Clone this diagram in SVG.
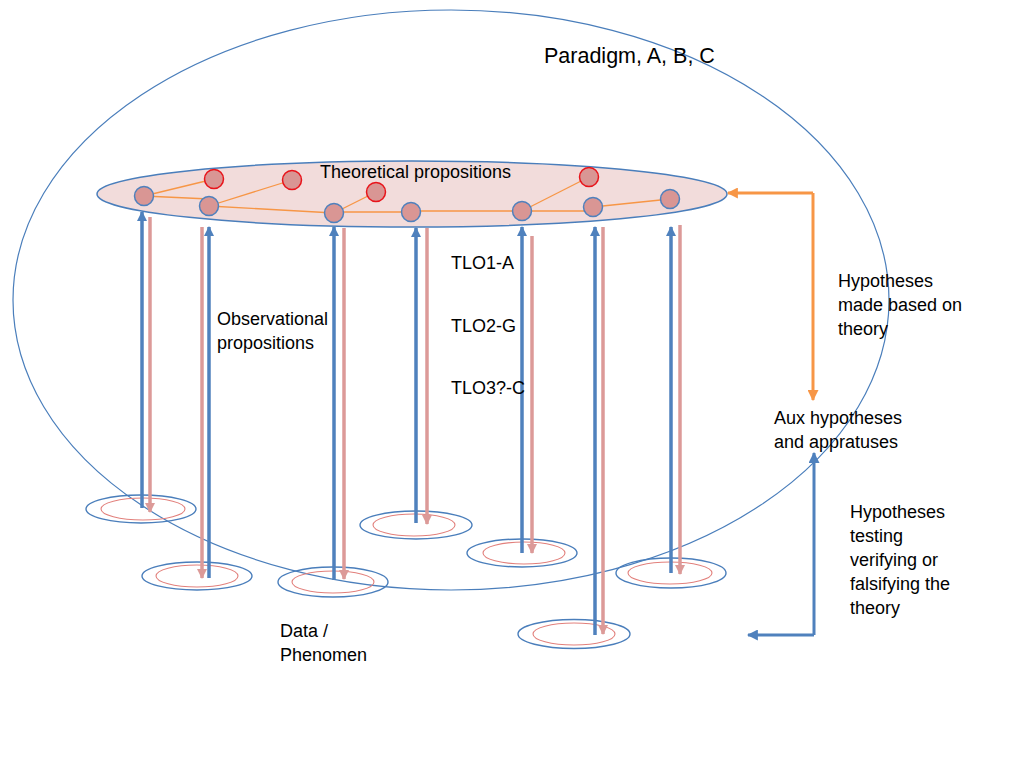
<svg xmlns="http://www.w3.org/2000/svg" width="1024" height="768" viewBox="0 0 1024 768">
<defs>
<style>
.t{font-family:"Liberation Sans",Arial,sans-serif;font-size:18px;fill:#000}
.big{fill:none;stroke:#4a7ebb;stroke-width:1.2}
.theory{fill:#f2dcdb;stroke:#4a7ebb;stroke-width:1.5}
.edge{stroke:#f79646;stroke-width:1.3;fill:none}
.nb{fill:#d99694;stroke:#4f81bd;stroke-width:1.5}
.nr{fill:#d99694;stroke:#e8141b;stroke-width:1.5}
.dout{fill:none;stroke:#4a7ebb;stroke-width:1.4}
.din{fill:none;stroke:#e2807c;stroke-width:1.1}
.up{stroke:#4f81bd;stroke-width:3.5;fill:none;marker-end:url(#mb)}
.down{stroke:#dc9a98;stroke-width:3.5;fill:none;marker-end:url(#mp)}
.oc{stroke:#f79646;stroke-width:3;fill:none;marker-end:url(#mo)}
.bc{stroke:#4f81bd;stroke-width:3;fill:none;marker-end:url(#mb2)}
</style>
<marker id="mb" viewBox="0 0 10 10" refX="9" refY="5" markerUnits="userSpaceOnUse" markerWidth="10" markerHeight="10" orient="auto"><path d="M0,0 L10,5 L0,10 z" fill="#4f81bd"/></marker>
<marker id="mp" viewBox="0 0 10 10" refX="9" refY="5" markerUnits="userSpaceOnUse" markerWidth="10" markerHeight="10" orient="auto"><path d="M0,0 L10,5 L0,10 z" fill="#dc9a98"/></marker>
<marker id="mo" viewBox="0 0 10 10" refX="9" refY="5" markerUnits="userSpaceOnUse" markerWidth="11" markerHeight="11" orient="auto"><path d="M0,0 L10,5 L0,10 z" fill="#f79646"/></marker>
<marker id="mb2" viewBox="0 0 10 10" refX="9" refY="5" markerUnits="userSpaceOnUse" markerWidth="11" markerHeight="11" orient="auto"><path d="M0,0 L10,5 L0,10 z" fill="#4f81bd"/></marker>
</defs>
<rect width="1024" height="768" fill="#fff"/>

<g id="paradigm">
<ellipse class="big" cx="451" cy="300" rx="438" ry="290"/>
<text class="t" x="544" y="63" style="font-size:21.5px">Paradigm, A, B, C</text>
</g>

<g id="theory">
<ellipse class="theory" cx="412" cy="194" rx="315" ry="33"/>
<text class="t" x="320" y="178">Theoretical propositions</text>
</g>

<g id="theory-edges">
<line class="edge" x1="144" y1="196" x2="214" y2="179"/>
<line class="edge" x1="144" y1="196" x2="209" y2="199"/>
<line class="edge" x1="209" y1="206" x2="292" y2="180"/>
<line class="edge" x1="209" y1="206" x2="334" y2="213"/>
<line class="edge" x1="334" y1="213" x2="376" y2="192"/>
<line class="edge" x1="334" y1="212" x2="411" y2="212"/>
<line class="edge" x1="411" y1="211" x2="522" y2="211"/>
<line class="edge" x1="522" y1="211" x2="589" y2="177"/>
<line class="edge" x1="522" y1="211" x2="593" y2="211"/>
<line class="edge" x1="593" y1="207" x2="670" y2="199"/>
</g>

<g id="n1"><circle class="nb" cx="144" cy="196" r="9.5"/></g>
<g id="n2"><circle class="nb" cx="209" cy="206" r="9.5"/></g>
<g id="n3"><circle class="nb" cx="334" cy="213" r="9.5"/></g>
<g id="n4"><circle class="nb" cx="411" cy="212" r="9.5"/></g>
<g id="n5"><circle class="nb" cx="522" cy="211" r="9.5"/></g>
<g id="n6"><circle class="nb" cx="593" cy="207" r="9.5"/></g>
<g id="n7"><circle class="nb" cx="670" cy="199" r="9.5"/></g>
<g id="r1"><circle class="nr" cx="214" cy="179" r="9.5"/></g>
<g id="r2"><circle class="nr" cx="292" cy="180" r="9.5"/></g>
<g id="r3"><circle class="nr" cx="376" cy="192" r="9.5"/></g>
<g id="r4"><circle class="nr" cx="589" cy="177" r="9.5"/></g>

<g id="d1"><ellipse class="dout" cx="141" cy="509" rx="55" ry="14"/><ellipse class="din" cx="143" cy="509" rx="42" ry="11"/></g>
<g id="d2"><ellipse class="dout" cx="197" cy="576" rx="55" ry="14"/><ellipse class="din" cx="197" cy="576" rx="41" ry="11"/></g>
<g id="d3"><ellipse class="dout" cx="333" cy="582" rx="55" ry="15"/><ellipse class="din" cx="333" cy="582" rx="41" ry="11"/></g>
<g id="d4"><ellipse class="dout" cx="416" cy="525" rx="56" ry="14"/><ellipse class="din" cx="414" cy="525" rx="41" ry="11"/></g>
<g id="d5"><ellipse class="dout" cx="522" cy="553" rx="55" ry="14"/><ellipse class="din" cx="524" cy="553" rx="41" ry="11"/></g>
<g id="d6"><ellipse class="dout" cx="574" cy="634" rx="56" ry="14.5"/><ellipse class="din" cx="574" cy="634" rx="41" ry="11"/></g>
<g id="d7"><ellipse class="dout" cx="671" cy="573" rx="55" ry="15"/><ellipse class="din" cx="670" cy="573" rx="42" ry="11"/></g>

<g id="connectors">
<line class="up" x1="142" y1="508" x2="142" y2="212"/>
<line class="down" x1="150" y1="217" x2="150" y2="512"/>
<line class="up" x1="209" y1="578" x2="209" y2="227"/>
<line class="down" x1="202" y1="227" x2="202" y2="578"/>
<line class="up" x1="334" y1="580" x2="334" y2="227"/>
<line class="down" x1="344" y1="228" x2="344" y2="579"/>
<line class="up" x1="416" y1="523" x2="416" y2="228"/>
<line class="down" x1="427" y1="228" x2="427" y2="524"/>
<line class="up" x1="522" y1="553" x2="522" y2="227"/>
<line class="down" x1="532" y1="236" x2="532" y2="553"/>
<line class="up" x1="595" y1="635" x2="595" y2="227"/>
<line class="down" x1="603" y1="227" x2="603" y2="634"/>
<line class="up" x1="671" y1="573" x2="671" y2="227"/>
<line class="down" x1="680" y1="225" x2="680" y2="574"/>
<path class="oc" d="M813,193 H728"/>
<path class="oc" d="M813,193 V400"/>
<path class="bc" d="M814,635 V453"/>
<path class="bc" d="M814,635 H748"/>
</g>

<g id="labels">
<text class="t" x="451" y="269">TLO1-A</text>
<text class="t" x="451" y="332">TLO2-G</text>
<text class="t" x="451" y="394">TLO3?-C</text>
<text class="t" x="217" y="325">Observational</text>
<text class="t" x="217" y="349">propositions</text>
<text class="t" x="838" y="287">Hypotheses</text>
<text class="t" x="838" y="311">made based on</text>
<text class="t" x="838" y="335">theory</text>
<text class="t" x="774" y="424">Aux hypotheses</text>
<text class="t" x="774" y="448">and appratuses</text>
<text class="t" x="850" y="518">Hypotheses</text>
<text class="t" x="850" y="542">testing</text>
<text class="t" x="850" y="566">verifying or</text>
<text class="t" x="850" y="590">falsifying the</text>
<text class="t" x="850" y="614">theory</text>
<text class="t" x="280" y="637">Data /</text>
<text class="t" x="280" y="661">Phenomen</text>
</g>
</svg>
